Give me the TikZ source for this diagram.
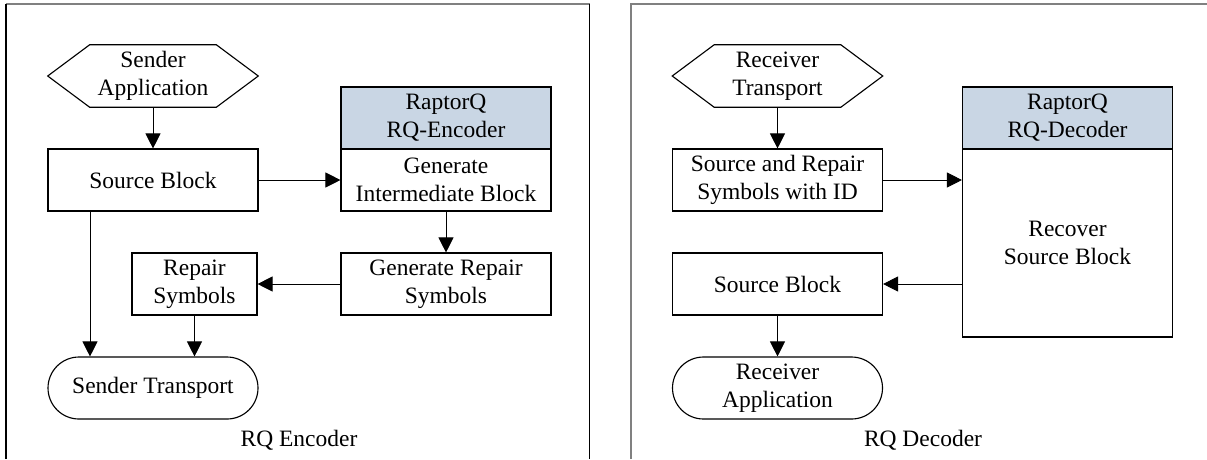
\documentclass[tikz,border=0pt]{standalone}
\usepackage{fontspec}
\setmainfont{Liberation Serif}
\usetikzlibrary{arrows.meta}
\definecolor{headblue}{RGB}{201,214,228}
\definecolor{framegray}{RGB}{128,128,128}

\begin{document}
\begin{tikzpicture}[font=\fontsize{16.7}{19.9}\selectfont,
		box/.style={draw, line width=0.8pt, minimum width=5.25cm, minimum height=1.55cm, align=center, inner sep=0pt},
		head/.style={box, fill=headblue},
		term/.style={box, rounded corners=0.775cm},
		hexa/.style={minimum width=5.25cm, minimum height=1.55cm, align=center, inner sep=0pt},
		arr/.style={line width=0.6pt, -{Triangle[width=0.375cm, length=0.375cm]}}]
		\useasboundingbox (0, 0) rectangle (30.175, -11.475);

		% frames
		\draw[framegray, line width=0.8pt] (0.15, -0.1) -- (14.74, -0.1);
		\draw[line width=0.8pt] (0.15, -11.475) -- (0.15, -0.1) (14.74, -0.1) -- (14.74, -11.475);
		\draw[framegray, line width=0.8pt] (15.775, -11.475) -- (15.775, -0.1) -- (30.175, -0.1);

		% encoder
		\node[hexa] (sa) at (3.825, -1.9) {Sender\\Application};
		\draw[line width=0.8pt] (sa.west) -- ([xshift=1.05cm]sa.north west) -- ([xshift=-1.05cm]sa.north east)
		-- (sa.east) -- ([xshift=-1.05cm]sa.south east) -- ([xshift=1.05cm]sa.south west) -- cycle;
		\node[box] (sb) at (3.825, -4.5) {Source Block};
		\node[head] (eh) at (11.15, -2.95) {RaptorQ\\RQ-Encoder};
		\node[box] (gib) at (11.15, -4.5) {Generate\\Intermediate Block};
		\node[box] (grs) at (11.15, -7.1) {Generate Repair\\Symbols};
		\node[box, minimum width=3.125cm] (rs) at (4.8625, -7.1) {Repair\\Symbols};
		\node[term] (st) at (3.825, -9.7) {Sender Transport};
		\node (enc) at (7.475, -11) {RQ Encoder};

		\path (sa) edge[arr] (sb)
		(sb) edge[arr] (gib)
		(gib) edge[arr] (grs)
		(grs) edge[arr] (rs);
		\draw[arr] ([xshift=-1.575cm]sb.south) coordinate (sbs) -- (sbs |- st.north);
		\draw[arr] (rs.south) -- (rs.south |- st.north);

		% decoder
		\node[hexa] (rt) at (19.4375, -1.9) {Receiver\\Transport};
		\draw[line width=0.8pt] (rt.west) -- ([xshift=1.05cm]rt.north west) -- ([xshift=-1.05cm]rt.north east)
		-- (rt.east) -- ([xshift=-1.05cm]rt.south east) -- ([xshift=1.05cm]rt.south west) -- cycle;
		\node[box] (sid) at (19.4375, -4.5) {Source and Repair\\Symbols with ID};
		\node[head] (dh) at (26.6875, -2.95) {RaptorQ\\RQ-Decoder};
		\node[box, minimum height=4.7cm] (rsb) at (26.6875, -6.075) {Recover\\Source Block};
		\node[box] (sb2) at (19.4375, -7.1) {Source Block};
		\node[term] (ra) at (19.4375, -9.7) {Receiver\\Application};
		\node (dec) at (23.075, -11) {RQ Decoder};

		\path (rt) edge[arr] (sid)
		(sb2) edge[arr] (ra);
		\draw[arr] (sid.east) -- (sid.east -| rsb.west);
		\draw[arr] (sb2.east -| rsb.west) -- (sb2.east);
	\end{tikzpicture}
\end{document}
